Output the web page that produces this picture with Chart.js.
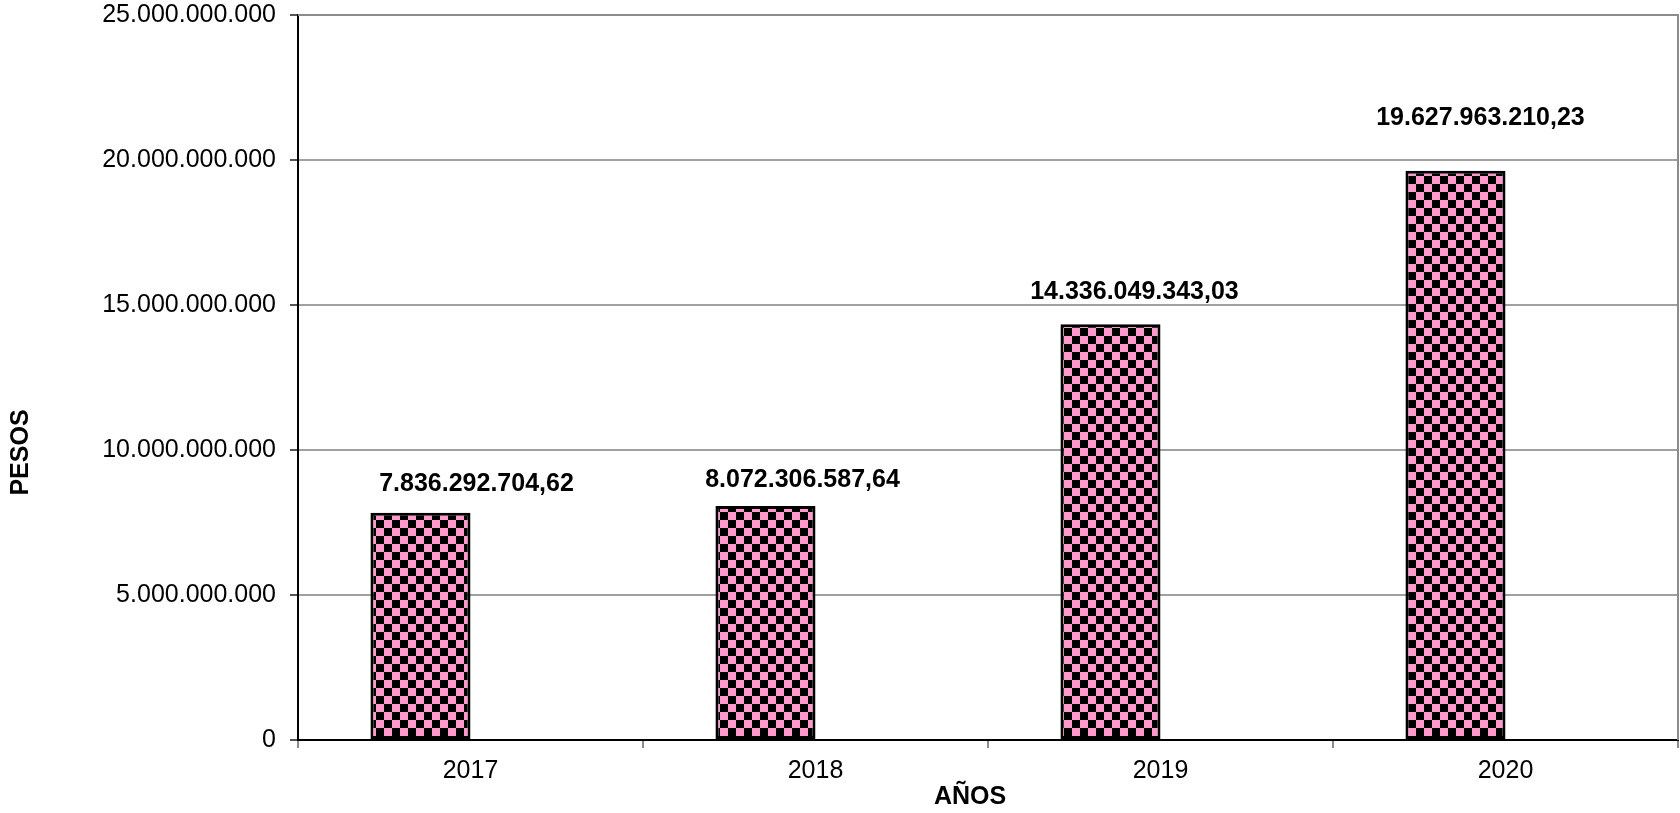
<!DOCTYPE html>
<html>
<head>
<meta charset="utf-8">
<script src="https://cdn.jsdelivr.net/npm/chart.js@4.4.1/dist/chart.umd.min.js"></script>
<style>
  html, body { margin: 0; padding: 0; background: #ffffff; }
  #wrap { width: 1680px; height: 813px; position: relative; }
</style>
</head>
<body>
<div id="wrap"><canvas id="c" width="1680" height="813"></canvas></div>
<script>
// ---- data ----
const categories = ['2017', '2018', '2019', '2020'];
const pesosValues = [7836292704.62, 8072306587.64, 14336049343.03, 19627963210.23];
const emptySeries = [null, null, null, null];
const yTickValues = [0, 5000000000, 10000000000, 15000000000, 20000000000, 25000000000];
const yAxisTitle = 'PESOS';
const xAxisTitle = 'AÑOS';

// ---- helpers ----
function groupThousands(intStr) {
  return intStr.replace(/\B(?=(\d{3})+(?!\d))/g, '.');
}
function formatTick(v) {
  return groupThousands(Math.round(v).toString());
}
function formatValue(v) {
  const parts = v.toFixed(2).split('.');
  return groupThousands(parts[0]) + ',' + parts[1];
}

function makeChecker() {
  const cell = 8;
  const pc = document.createElement('canvas');
  pc.width = cell * 2; pc.height = cell * 2;
  const g = pc.getContext('2d');
  g.fillStyle = '#FF99CC';
  g.fillRect(0, 0, cell * 2, cell * 2);
  g.fillStyle = '#000000';
  g.fillRect(0, 0, cell, cell);
  g.fillRect(cell, cell, cell, cell);
  return document.getElementById('c').getContext('2d').createPattern(pc, 'repeat');
}

const FONT = '"Liberation Sans", Arial, sans-serif';

const valueLabels = {
  id: 'valueLabels',
  afterDatasetsDraw(chart, args, opts) {
    const ctx = chart.ctx;
    const meta = chart.getDatasetMeta(0);
    ctx.save();
    ctx.font = 'bold 25px ' + FONT;
    ctx.fillStyle = '#000';
    ctx.textAlign = 'center';
    ctx.textBaseline = 'middle';
    meta.data.forEach((bar, i) => {
      const v = chart.data.datasets[0].data[i];
      ctx.fillText(formatValue(v), bar.x + opts.dx[i], bar.y + opts.dy[i]);
    });
    ctx.restore();
  }
};

const axisTitles = {
  id: 'axisTitles',
  afterDraw(chart, args, opts) {
    const { ctx, chartArea: a } = chart;
    ctx.save();
    ctx.font = 'bold 25px ' + FONT;
    ctx.fillStyle = '#000';
    ctx.textAlign = 'center';
    ctx.textBaseline = 'middle';
    ctx.fillText(opts.xText, (a.left + a.right) / 2 + opts.xShift, chart.height - 16);
    ctx.translate(21, (a.top + a.bottom) / 2 + opts.yShift);
    ctx.rotate(-Math.PI / 2);
    ctx.fillText(opts.yText, 0, 0);
    ctx.restore();
  }
};

const frame = {
  id: 'frame',
  beforeDatasetsDraw(chart) {
    const { ctx, chartArea: a } = chart;
    ctx.save();
    ctx.strokeStyle = '#8c8c8c';
    ctx.lineWidth = 2;
    ctx.beginPath();
    ctx.moveTo(a.left, a.top);
    ctx.lineTo(a.right, a.top);
    ctx.lineTo(a.right, a.bottom);
    ctx.stroke();
    ctx.restore();
  }
};

new Chart(document.getElementById('c'), {
  type: 'bar',
  data: {
    labels: categories,
    datasets: [
      {
        label: yAxisTitle,
        data: pesosValues,
        backgroundColor: makeChecker(),
        borderColor: '#000000',
        borderWidth: 3,
        borderSkipped: false,
        categoryPercentage: 0.58,
        barPercentage: 1.0
      },
      {
        label: '',
        data: emptySeries,
        categoryPercentage: 0.58,
        barPercentage: 1.0
      }
    ]
  },
  options: {
    responsive: false,
    animation: false,
    devicePixelRatio: 1,
    layout: { padding: { left: 0, right: 2, top: 15, bottom: 0 } },
    plugins: {
      legend: { display: false },
      tooltip: { enabled: false },
      valueLabels: { dx: [56, 37, 24, 25], dy: [-29, -26, -32, -53] },
      axisTitles: { xText: xAxisTitle, yText: yAxisTitle, xShift: -18, yShift: 75 }
    },
    scales: {
      x: {
        type: 'category',
        offset: true,
        grid: {
          offset: true,
          drawOnChartArea: false,
          drawTicks: true,
          tickLength: 8,
          color: '#8c8c8c',
          lineWidth: 2
        },
        border: { display: true, color: '#000000', width: 2 },
        ticks: {
          color: '#000',
          font: { family: FONT, size: 25 },
          padding: 8,
          maxRotation: 0
        },
        title: { display: false },
        afterFit(scale) { scale.height = 73; scale.paddingLeft = 0; scale.paddingRight = 0; }
      },
      y: {
        type: 'linear',
        min: 0,
        max: 25000000000,
        afterBuildTicks(scale) { scale.ticks = yTickValues.map(v => ({ value: v })); },
        grid: {
          color: '#a0a0a0',
          lineWidth: 2,
          drawTicks: true,
          tickLength: 8,
          tickColor: '#555555'
        },
        border: { display: true, color: '#000000', width: 2 },
        ticks: {
          color: '#000',
          font: { family: FONT, size: 25 },
          padding: 14,
          callback: (v) => formatTick(v)
        },
        title: { display: false },
        afterFit(scale) { scale.width = 298; scale.paddingTop = 0; scale.paddingBottom = 0; }
      }
    }
  },
  plugins: [frame, valueLabels, axisTitles]
});
</script>
</body>
</html>
